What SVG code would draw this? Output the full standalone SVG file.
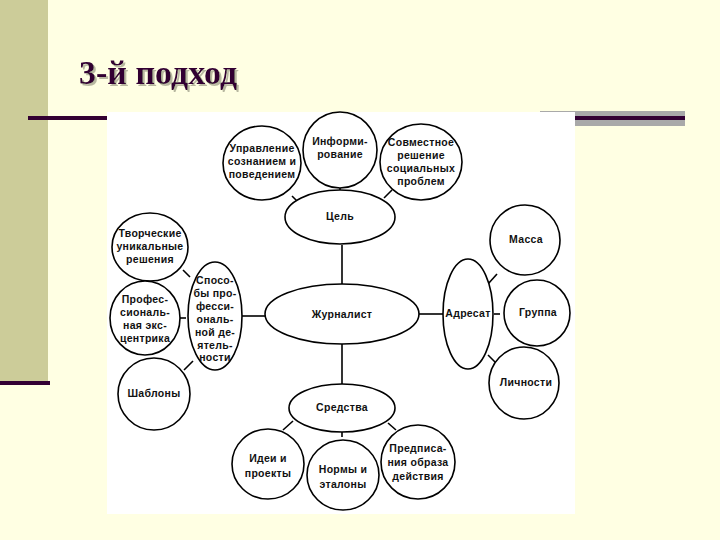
<svg xmlns="http://www.w3.org/2000/svg" width="720" height="540" viewBox="0 0 720 540">
<style>
.n{fill:#fff;stroke:#000;stroke-width:1.6}
.t{font-family:"Liberation Sans",Arial,sans-serif;font-weight:bold;font-size:10.5px;letter-spacing:0.3px;fill:#111;text-anchor:middle}
.c{stroke:#000;stroke-width:1.6;fill:none}
</style>
<defs>
<filter id="sh" x="-10%" y="-20%" width="130%" height="150%"><feDropShadow dx="2" dy="2" stdDeviation="0.5" flood-color="#B8B8A0"/></filter>
</defs>
<rect width="720" height="540" fill="#FFFFE3"/>
<rect x="0" y="0" width="48" height="382" fill="#CCCC99"/>
<rect x="0" y="381" width="50" height="4" fill="#330033"/>
<rect x="540" y="111" width="145" height="15" fill="#A9A9A9"/>
<rect x="28" y="116" width="80" height="4" fill="#330033"/>
<rect x="575" y="116" width="110" height="4" fill="#330033"/>
<text x="79" y="84" font-family="Liberation Serif,serif" font-weight="bold" font-size="34" fill="#330033" filter="url(#sh)">3-й подход</text>
<rect x="107" y="112" width="468" height="402" fill="#fff"/>
<g id="connectors">
<line class="c" x1="342" y1="245" x2="342" y2="285"/>
<line class="c" x1="342" y1="344" x2="342" y2="385"/>
<line class="c" x1="419" y1="314" x2="443" y2="314"/>
<line class="c" x1="242" y1="316" x2="265" y2="316"/>
<line class="c" x1="292" y1="196" x2="300" y2="204"/>
<line class="c" x1="340" y1="185" x2="340" y2="190"/>
<line class="c" x1="384" y1="198" x2="392" y2="190"/>
<line class="c" x1="488" y1="284" x2="497" y2="274"/>
<line class="c" x1="494" y1="314" x2="500" y2="314"/>
<line class="c" x1="488" y1="355" x2="496" y2="363"/>
<line class="c" x1="183" y1="270" x2="190" y2="277"/>
<line class="c" x1="180" y1="318" x2="186" y2="318"/>
<line class="c" x1="184" y1="370" x2="193" y2="361"/>
<line class="c" x1="293" y1="421" x2="283" y2="430"/>
<line class="c" x1="342" y1="432" x2="342" y2="437"/>
<line class="c" x1="388" y1="423" x2="396" y2="430"/>
</g>
<g id="upravlenie"><ellipse class="n" cx="262" cy="163" rx="39" ry="37"/><text class="t"><tspan x="262" y="152">Управление</tspan><tspan x="262" y="165">сознанием и</tspan><tspan x="262" y="178">поведением</tspan></text></g>
<g id="informirovanie"><ellipse class="n" cx="340" cy="150" rx="37" ry="38"/><text class="t"><tspan x="340" y="145">Информи-</tspan><tspan x="340" y="158">рование</tspan></text></g>
<g id="sovmestnoe"><ellipse class="n" cx="421" cy="162" rx="41" ry="38"/><text class="t"><tspan x="421" y="146">Совместное</tspan><tspan x="421" y="159">решение</tspan><tspan x="421" y="172">социальных</tspan><tspan x="421" y="185">проблем</tspan></text></g>
<g id="cel"><ellipse class="n" cx="340" cy="217" rx="55" ry="27"/><text class="t" x="340" y="220">Цель</text></g>
<g id="zhurnalist"><ellipse class="n" cx="342" cy="314" rx="77" ry="30"/><text class="t" x="342" y="318">Журналист</text></g>
<g id="sredstva"><ellipse class="n" cx="342" cy="408" rx="53" ry="24"/><text class="t" x="342" y="411">Средства</text></g>
<g id="idei"><ellipse class="n" cx="268" cy="464" rx="36" ry="35"/><text class="t"><tspan x="268" y="462">Идеи и</tspan><tspan x="268" y="477">проекты</tspan></text></g>
<g id="normy"><ellipse class="n" cx="343" cy="475" rx="36" ry="35"/><text class="t"><tspan x="343" y="473">Нормы и</tspan><tspan x="343" y="488">эталоны</tspan></text></g>
<g id="predpisania"><ellipse class="n" cx="418" cy="462" rx="37" ry="37"/><text class="t"><tspan x="418" y="452">Предписа-</tspan><tspan x="418" y="466">ния образа</tspan><tspan x="418" y="480">действия</tspan></text></g>
<g id="adresat"><ellipse class="n" cx="468" cy="314" rx="25" ry="55"/><text class="t" x="468" y="317">Адресат</text></g>
<g id="massa"><ellipse class="n" cx="525" cy="240" rx="35" ry="35"/><text class="t" x="526" y="243">Масса</text></g>
<g id="gruppa"><ellipse class="n" cx="537" cy="313" rx="33" ry="33"/><text class="t" x="538" y="316">Группа</text></g>
<g id="lichnosti"><ellipse class="n" cx="524" cy="383" rx="35" ry="36"/><text class="t" x="526" y="386">Личности</text></g>
<g id="sposoby"><ellipse class="n" cx="215" cy="316" rx="27" ry="54"/><text class="t"><tspan x="215" y="284">Спосо-</tspan><tspan x="215" y="297">бы про-</tspan><tspan x="215" y="310">фесси-</tspan><tspan x="215" y="323">ональ-</tspan><tspan x="215" y="336">ной де-</tspan><tspan x="215" y="349">ятель-</tspan><tspan x="215" y="361">ности</tspan></text></g>
<g id="tvorcheskie"><ellipse class="n" cx="150" cy="247" rx="38" ry="34"/><text class="t"><tspan x="150" y="237">Творческие</tspan><tspan x="150" y="250">уникальные</tspan><tspan x="150" y="263">решения</tspan></text></g>
<g id="professionalnaya"><ellipse class="n" cx="145" cy="318" rx="35" ry="37"/><text class="t"><tspan x="145" y="303">Профес-</tspan><tspan x="145" y="316">сиональ-</tspan><tspan x="145" y="329">ная экс-</tspan><tspan x="145" y="342">центрика</tspan></text></g>
<g id="shablony"><ellipse class="n" cx="154" cy="394" rx="36" ry="36"/><text class="t" x="154" y="397">Шаблоны</text></g>
</svg>
